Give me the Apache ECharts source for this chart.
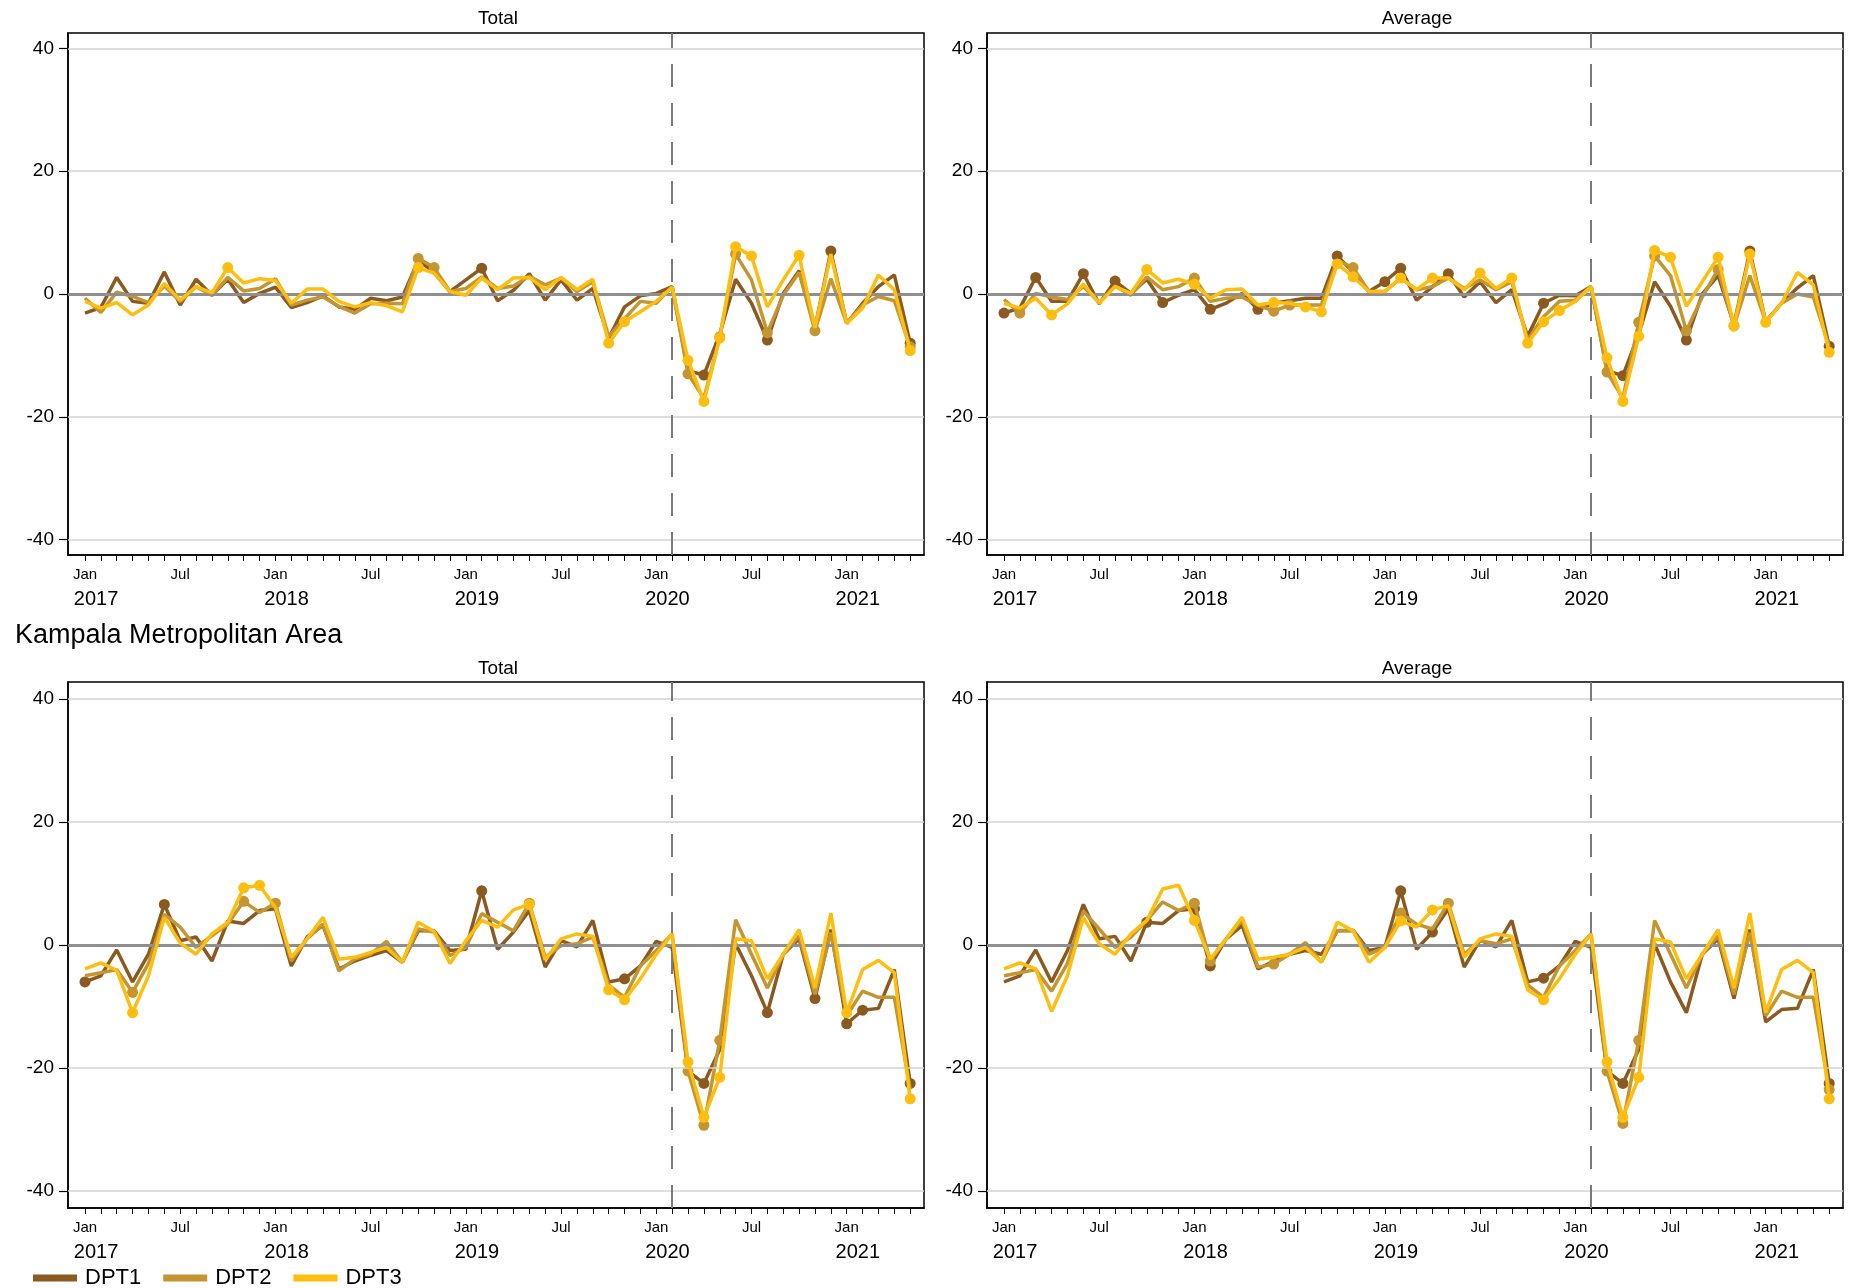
<!DOCTYPE html>
<html><head><meta charset="utf-8">
<script src="https://cdn.jsdelivr.net/npm/echarts@6/dist/echarts.min.js"></script>
<style>html,body{margin:0;padding:0;background:#fff}#c{width:1853px;height:1288px}</style>
</head><body><div id="c"></div>
<script>
// Month index 0 = Jan 2017 ... 52 = May 2021
const seriesNames = ['DPT1', 'DPT2', 'DPT3'];
const panelTitles = ['Total', 'Average', 'Total', 'Average'];
const sectionTitle = 'Kampala Metropolitan Area';
const yTicks = [-40, -20, 0, 20, 40];
const monthTickLabels = {0: 'Jan', 6: 'Jul'};
const yearLabels = ['2017', '2018', '2019', '2020', '2021'];
const breakMonth = 37;

// Top-left: Total
const tl_dpt1 = [-3.1,-2.2,2.7,-1.2,-1.5,3.6,-1.8,2.4,-0.2,2.4,-1.4,0.1,1.1,-2.2,-1.4,-0.3,-2.1,-2.5,-0.7,-1.1,-0.5,5.5,3.5,0.4,2.3,4.2,-1.1,0.6,3.3,-1.0,2.3,-1.0,0.9,-7.2,-2.1,-0.3,0.1,1.2,-12.5,-13.2,-6.5,2.4,-1.5,-7.5,0.1,3.8,-5.5,7.0,-4.8,-1.5,1.2,3.1,-8.0];
const tl_dpt2 = [-0.7,-3.0,0.3,-0.4,-1.4,1.3,-1.2,1.2,-0.2,2.7,0.5,0.9,2.5,-1.8,-1.0,-0.5,-2.0,-3.1,-1.6,-1.5,-1.6,5.8,4.3,0.4,0.9,2.8,0.9,1.3,2.9,1.5,2.6,0.4,2.0,-6.9,-4.0,-1.2,-1.5,1.2,-13.0,-17.0,-7.0,6.5,2.3,-6.3,-0.2,3.5,-6.0,2.5,-4.8,-1.8,-0.4,-1.1,-8.6];
const tl_dpt3 = [-1.2,-2.3,-1.4,-3.4,-1.8,1.7,-1.0,1.2,0.2,4.3,1.8,2.5,2.2,-1.5,0.8,0.8,-1.2,-2.1,-1.4,-1.9,-2.9,4.3,3.4,0.4,-0.2,2.6,0.7,2.6,2.7,0.7,2.7,0.7,2.4,-8.0,-4.5,-2.9,-1.2,1.1,-10.8,-17.5,-7.2,7.7,6.2,-2.1,2.3,6.3,-5.5,6.5,-4.8,-2.3,3.1,0.7,-9.2];
const tl_marks = [[25,39,43,47,52],[21,22,38,40,41,43,46,52],[9,21,33,34,38,39,40,41,42,45,52]];

// Top-right: Average
const tr_dpt1 = [-3.1,-2.3,2.7,-1.2,-1.2,3.3,-1.6,2.1,0.1,2.4,-1.4,-0.2,0.7,-2.5,-1.5,0.1,-2.5,-1.5,-1.1,-0.7,-0.7,6.2,3.6,0.4,2.0,4.2,-1.0,1.2,3.3,-0.5,2.0,-1.4,0.7,-6.9,-1.5,-0.2,-0.3,1.2,-12.5,-13.3,-6.5,2.0,-2.0,-7.5,0.0,3.0,-5.0,7.0,-4.5,-1.5,1.0,3.0,-8.5];
const tr_dpt2 = [-0.9,-3.1,0.1,-0.5,-0.9,1.2,-1.4,1.3,-0.2,2.8,0.7,1.2,2.6,-1.2,-0.7,-0.5,-1.8,-2.8,-1.8,-1.8,-1.8,5.5,4.3,0.4,0.4,2.6,0.7,1.2,2.6,0.9,2.3,0.7,2.0,-7.5,-3.7,-1.2,-1.0,1.2,-12.7,-17.0,-4.6,6.2,3.0,-6.0,-0.5,4.0,-5.2,3.0,-4.5,-1.5,0.0,-0.5,-8.5];
const tr_dpt3 = [-1.5,-2.3,-0.7,-3.4,-1.6,1.6,-1.5,1.2,0.1,4.0,1.8,2.4,1.6,-0.7,0.7,0.8,-1.8,-1.4,-1.5,-2.1,-2.9,4.9,2.8,0.4,0.4,2.6,0.7,2.6,2.6,0.7,3.4,0.9,2.6,-8.0,-4.5,-2.7,-1.2,1.2,-10.4,-17.5,-6.9,7.1,6.0,-2.0,2.0,6.0,-5.2,6.5,-4.6,-1.5,3.5,1.5,-9.5];
const tr_marks = [[0,2,5,7,10,13,16,21,24,25,28,34,39,43,47,52],[1,12,17,18,22,38,40,41,43,45,46],[3,9,12,17,19,20,21,22,25,27,30,32,33,34,35,38,39,40,41,42,45,46,47,48,52]];

// Bottom-left: Kampala Total
const bl_dpt1 = [-6.0,-5.0,-0.8,-6.0,-1.5,6.6,0.7,1.3,-2.6,3.9,3.5,5.6,5.9,-3.4,1.3,3.2,-3.9,-2.6,-1.7,-0.9,-2.8,2.3,2.3,-0.9,-0.7,8.8,-0.7,2.1,5.6,-3.6,0.7,-0.3,4.0,-6.0,-5.5,-3.4,0.6,-0.4,-20.5,-22.5,-17.0,0.2,-5.0,-11.0,-1.5,1.0,-8.7,2.5,-12.8,-10.6,-10.3,-4.0,-22.5];
const bl_dpt2 = [-5.0,-4.5,-4.0,-7.7,-3.0,5.0,2.9,-0.4,1.5,3.4,7.1,5.3,6.8,-2.6,1.0,3.4,-4.2,-2.3,-1.5,0.6,-2.8,2.6,2.1,-1.7,-0.4,5.1,3.7,2.3,6.8,-2.0,-0.1,0.2,1.3,-6.5,-8.5,-3.4,-0.9,1.8,-20.5,-29.3,-15.5,4.1,-1.5,-7.0,-1.5,1.5,-8.0,2.0,-11.5,-7.5,-8.5,-8.5,-23.5];
const bl_dpt3 = [-3.9,-2.9,-4.1,-11.0,-5.0,4.5,0.3,-1.5,1.8,3.7,9.3,9.7,6.1,-2.0,1.0,4.5,-2.3,-2.0,-1.2,-0.4,-2.8,3.7,2.2,-3.0,0.7,4.0,2.9,5.7,6.6,-2.4,1.0,1.8,1.4,-7.3,-8.9,-5.5,-1.5,1.8,-19.0,-28.0,-21.5,1.0,0.7,-5.5,-1.5,2.5,-7.0,5.2,-11.0,-4.0,-2.5,-4.5,-25.0];
const bl_marks = [[0,5,25,34,39,43,46,48,49,52],[3,10,12,28,38,39,40],[3,10,11,28,33,34,38,39,40,48,52]];

// Bottom-right: Kampala Average
const br_dpt1 = [-6.0,-5.0,-0.8,-6.0,-0.9,6.6,1.0,1.4,-2.6,3.7,3.5,5.6,5.9,-3.4,1.0,3.2,-3.9,-2.6,-1.5,-0.9,-1.5,2.3,2.4,-0.9,-0.4,8.8,-0.7,2.1,5.9,-3.6,0.8,-0.3,4.0,-6.0,-5.4,-3.4,0.6,-0.4,-20.5,-22.5,-17.0,0.2,-6.0,-11.0,-1.5,1.0,-8.7,2.5,-12.5,-10.5,-10.3,-4.0,-22.5];
const br_dpt2 = [-5.0,-4.5,-4.0,-7.5,-3.0,5.5,2.6,-0.4,1.3,4.0,7.0,5.6,6.8,-2.6,1.0,4.0,-3.6,-3.1,-1.5,0.4,-2.8,2.3,2.3,-1.5,-0.4,5.2,3.4,2.6,6.8,-1.5,0.7,0.2,1.0,-6.5,-8.5,-3.4,-0.9,1.8,-20.5,-29.0,-15.5,4.0,-1.5,-7.0,-1.5,1.5,-8.0,2.0,-11.5,-7.5,-8.5,-8.5,-23.5];
const br_dpt3 = [-3.9,-2.9,-3.9,-10.8,-5.0,4.5,0.2,-1.5,1.8,4.0,9.1,9.7,4.0,-2.3,1.0,4.5,-2.3,-2.0,-1.5,-0.4,-2.8,3.7,2.3,-2.8,-0.4,3.9,2.9,5.7,6.4,-2.0,1.0,1.8,1.4,-7.3,-8.9,-5.5,-1.5,1.8,-19.0,-28.0,-21.5,1.0,0.5,-5.5,-1.5,2.5,-7.0,5.2,-11.0,-4.0,-2.5,-4.5,-25.0];
const br_marks = [[9,12,13,25,27,34,39,52],[12,13,17,25,28,38,39,40,52],[12,25,27,34,38,39,40,52]];

const panels = [
  {data: [tl_dpt1, tl_dpt2, tl_dpt3], marks: tl_marks},
  {data: [tr_dpt1, tr_dpt2, tr_dpt3], marks: tr_marks},
  {data: [bl_dpt1, bl_dpt2, bl_dpt3], marks: bl_marks},
  {data: [br_dpt1, br_dpt2, br_dpt3], marks: br_marks}
];

const colors = ['#8B5A20', '#C49530', '#FDBE0F'];
const FONT = '"Liberation Sans", Arial, Helvetica, sans-serif';
const gridBoxes = [
  {left: 68, top: 33, width: 856, height: 522},
  {left: 987, top: 33, width: 856, height: 522},
  {left: 68, top: 682, width: 856, height: 526},
  {left: 987, top: 682, width: 856, height: 526}
];
const yExt = [42.5, 42.5, 42.75, 42.75];
const nMonths = tl_dpt1.length;
const allMonths = Array.from({length: nMonths}, (_, i) => i);
const labelMonths = allMonths.filter(i => i % 6 === 0);
const yearPos = yearLabels.map((_, k) => k * 12 + 0.7);

const grids = [], xAxes = [], yAxes = [], series = [], titles = [];
gridBoxes.forEach((g, p) => {
  grids.push(Object.assign({show: true, borderColor: '#000', borderWidth: 1.5, backgroundColor: '#fff'}, g));
  xAxes.push({
    type: 'value', gridIndex: p, min: -1.07, max: 52.87,
    axisLine: {show: true, onZero: false, lineStyle: {color: '#000', width: 1.5}},
    axisTick: {show: true, customValues: allMonths, length: 6, lineStyle: {color: '#000', width: 1}},
    axisLabel: {customValues: labelMonths, formatter: v => monthTickLabels[Math.round(v) % 12] || '',
      color: '#000', fontSize: 15, fontFamily: FONT, margin: 12},
    splitLine: {show: false}
  });
  xAxes.push({
    type: 'value', gridIndex: p, min: -1.07, max: 52.87, position: 'bottom',
    axisLine: {show: false}, axisTick: {show: false},
    axisLabel: {customValues: yearPos, formatter: v => yearLabels[Math.round((v - 0.7) / 12)] || '',
      color: '#000', fontSize: 20, fontFamily: FONT, margin: 34},
    splitLine: {show: false}
  });
  yAxes.push({
    type: 'value', gridIndex: p, min: -yExt[p], max: yExt[p],
    axisLine: {show: true, onZero: false, lineStyle: {color: '#000', width: 1.5}},
    axisTick: {show: true, customValues: yTicks, length: 9, lineStyle: {color: '#000', width: 1.2}},
    axisLabel: {customValues: yTicks, color: '#000', fontSize: 19, fontFamily: FONT, margin: 14},
    splitLine: {show: false}
  });
  // reference lines
  series.push({
    type: 'line', xAxisIndex: p * 2, yAxisIndex: p, data: [], z: 1, silent: true,
    markLine: {
      symbol: 'none', silent: true, animation: false, label: {show: false},
      data: [
        ...yTicks.filter(v => v !== 0).map(v => ({yAxis: v, lineStyle: {color: '#d4d4d4', width: 1.6, type: 'solid'}})),
        {yAxis: 0, lineStyle: {color: '#8f8f8f', width: 3, type: 'solid'}},
        {xAxis: breakMonth, lineStyle: {color: '#7a7a7a', width: 2, type: [23, 16]}}
      ]
    }
  });
  panels[p].data.forEach((arr, s) => {
    const mk = panels[p].marks[s];
    series.push({
      name: seriesNames[s], type: 'line', xAxisIndex: p * 2, yAxisIndex: p, z: 3 + s,
      data: arr.map((v, i) => [i, v]),
      showSymbol: true, symbol: 'circle',
      symbolSize: (val, params) => mk.includes(params.dataIndex) ? 11 : 0,
      lineStyle: {color: colors[s], width: 3.5},
      itemStyle: {color: colors[s]},
      animation: false
    });
  });
  titles.push({text: panelTitles[p], left: g.left + g.width / 2 - 3, textAlign: 'center', top: p < 2 ? 4 : 654,
    textStyle: {fontSize: 19, fontWeight: 'normal', color: '#000', fontFamily: FONT}});
});
titles.push({text: sectionTitle, left: 10, top: 617, textStyle: {fontSize: 27, fontWeight: 'normal', color: '#000', fontFamily: FONT}});

const chart = echarts.init(document.getElementById('c'));
chart.setOption({
  animation: false,
  backgroundColor: '#fff',
  title: titles,
  grid: grids, xAxis: xAxes, yAxis: yAxes, series: series,
  legend: {data: seriesNames, left: 28, top: 1262, icon: 'rect', itemWidth: 44, itemHeight: 7, itemGap: 22,
    textStyle: {fontSize: 22, color: '#000', fontFamily: FONT, padding: [0, 0, 0, 3]}}
});
</script></body></html>
